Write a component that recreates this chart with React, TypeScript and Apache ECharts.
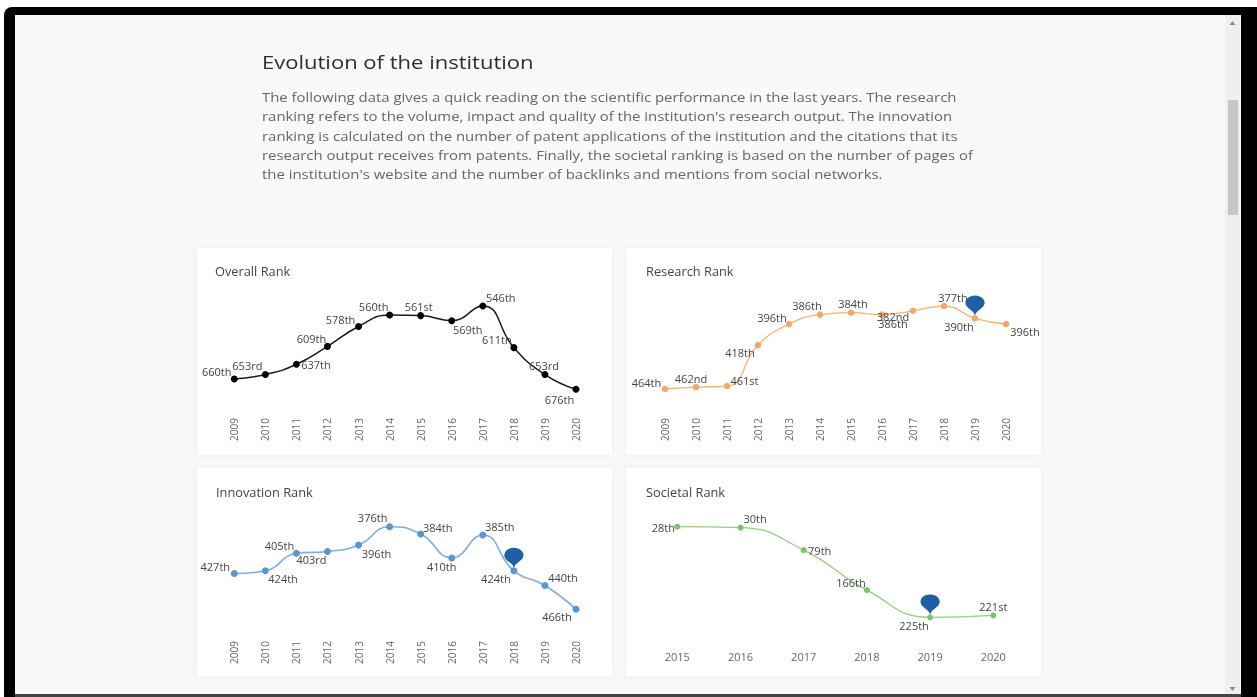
import React, { useEffect, useRef } from "react";
import * as echarts from "echarts";

// ---------- DATA ----------
const years = ["2009", "2010", "2011", "2012", "2013", "2014", "2015", "2016", "2017", "2018", "2019", "2020"];
const societalYears = ["2015", "2016", "2017", "2018", "2019", "2020"];

const overallRank = [660, 653, 637, 609, 578, 560, 561, 569, 546, 611, 653, 676];
const researchRank = [464, 462, 461, 418, 396, 386, 384, 386, 382, 377, 390, 396];
const innovationRank = [427, 424, 405, 403, 396, 376, 384, 410, 385, 424, 440, 466];
const societalRank = [28, 30, 79, 166, 225, 221];

const researchPinYear = "2019";
const innovationPinYear = "2018";
const societalPinYear = "2019";

const panelTitles = ["Overall Rank", "Research Rank", "Innovation Rank", "Societal Rank"];

const headline = "Evolution of the institution";
const paragraphLines = [
  "The following data gives a quick reading on the scientific performance in the last years. The research",
  "ranking refers to the volume, impact and quality of the institution's research output. The innovation",
  "ranking is calculated on the number of patent applications of the institution and the citations that its",
  "research output receives from patents. Finally, the societal ranking is based on the number of pages of",
  "the institution's website and the number of backlinks and mentions from social networks.",
];

// ---------- LABEL PLACEMENT (style, separate from data) ----------
const overallLabelOffsets = [[-17.6, -8], [-18, -9], [19.5, 0], [-16, -8.3], [-18, -7.3], [-16, -8.3], [-2, -9], [16, 8.3], [18, -8.3], [-17, -7.7], [-1, -9], [-16.5, 10]];
const researchLabelOffsets = [[-18.5, -7], [-5, -9], [17.5, -6], [-18, 7], [-17, -7], [-13, -9], [2, -9], [11, 9], [-20, 6], [9, -9], [-16, 8], [19, 7.4]];
const innovationLabelOffsets = [[-19, -6.7], [17.7, 7.3], [-17, -7.6], [-16, 8.3], [18, 8.3], [-17, -9], [17, -6.3], [-10, 8.4], [17, -8.3], [-18, 7.3], [18, -8], [-19, 7.4]];
const societalLabelOffsets = [[-14, 1], [14.5, -8.7], [16, 0], [-16, -7.7], [-16, 8.4], [0, -8.6]];

const FONT = "'Open Sans', 'Noto Sans', sans-serif";

function ordinal(n: number): string {
  const h = n % 100;
  if (h >= 11 && h <= 13) return n + "th";
  switch (n % 10) {
    case 1: return n + "st";
    case 2: return n + "nd";
    case 3: return n + "rd";
    default: return n + "th";
  }
}

function makeSeries(
  idx: number,
  cats: string[],
  values: number[],
  offsets: number[][],
  lineColor: string,
  dotColor: string,
  symbolSize: number,
  lineWidth: number,
  pinYear?: string
): any {
  const s: any = {
    type: "line",
    xAxisIndex: idx,
    yAxisIndex: idx,
    smooth: true,
    symbol: "circle",
    symbolSize,
    showSymbol: true,
    lineStyle: { color: lineColor, width: lineWidth },
    itemStyle: { color: dotColor },
    label: {
      show: true,
      position: "inside",
      align: "center",
      verticalAlign: "middle",
      fontFamily: FONT,
      fontSize: 11,
      color: "#444",
      formatter: (p: any) => ordinal(p.value),
    },
    emphasis: { disabled: true },
    data: values.map((v, i) => ({ value: v, label: { offset: offsets[i] } })),
  };
  if (pinYear) {
    const pi = cats.indexOf(pinYear);
    s.markPoint = {
      symbol: "pin",
      symbolSize: [32, 24],
      symbolOffset: [0, -2],
      silent: true,
      itemStyle: { color: "#1f5fa6" },
      label: { show: false },
      data: [{ coord: [pi, values[pi]] }],
    };
  }
  return s;
}

function xAxis(idx: number, cats: string[], rotated: boolean): any {
  return {
    type: "category",
    gridIndex: idx,
    data: cats,
    boundaryGap: false,
    axisLine: { show: false },
    axisTick: { show: false },
    splitLine: { show: false },
    axisLabel: {
      interval: 0,
      rotate: rotated ? 90 : 0,
      fontFamily: FONT,
      fontSize: rotated ? 10 : 11,
      color: "#666",
      margin: rotated ? 8 : 9,
    },
  };
}

function yAxis(idx: number, min: number, max: number): any {
  return { type: "value", gridIndex: idx, inverse: true, min, max, show: false, splitLine: { show: false } };
}

const panels = [
  { x: 197, y: 248, w: 415, h: 207, tx: 215, ty: 271 },
  { x: 626, y: 248, w: 415, h: 207, tx: 646, ty: 271 },
  { x: 197, y: 468, w: 415, h: 208, tx: 216, ty: 492 },
  { x: 626, y: 468, w: 415, h: 208, tx: 646, ty: 492 },
];

const graphicElements: any[] = [
  { type: "rect", shape: { x: 0, y: 0, width: 1257, height: 697 }, style: { fill: "#ffffff" } },
  { type: "rect", shape: { x: 4, y: 7, width: 1265, height: 705, r: 8 }, style: { fill: "#000000" } },
  { type: "rect", shape: { x: 15, y: 15, width: 1226, height: 679 }, style: { fill: "#f9f9f9" } },
  { type: "rect", shape: { x: 1225, y: 15, width: 15, height: 679 }, style: { fill: "#efefef" } },
  { type: "rect", shape: { x: 1228, y: 100, width: 10, height: 115 }, style: { fill: "#c6c6c6" } },
  { type: "polygon", shape: { points: [[1229.5, 25], [1235.5, 25], [1232.5, 21]] }, style: { fill: "#8a8a8a" } },
  { type: "polygon", shape: { points: [[1229.5, 687], [1235.5, 687], [1232.5, 691]] }, style: { fill: "#8a8a8a" } },
  { type: "rect", shape: { x: 15, y: 694, width: 1226, height: 3 }, style: { fill: "#444" } },
  {
    type: "text",
    x: 262,
    y: 62,
    scaleX: 1.19,
    style: { text: headline, fill: "#2e2e2e", font: `18.5px ${FONT}`, textVerticalAlign: "middle" },
  },
  ...paragraphLines.map((t, i) => ({
    type: "text",
    x: 262,
    y: 96.7 + i * 19.4,
    scaleX: 1.185,
    style: { text: t, fill: "#666", font: `12.6px ${FONT}`, textVerticalAlign: "middle" },
  })),
  ...panels.map((p) => ({
    type: "rect",
    shape: { x: p.x, y: p.y, width: p.w, height: p.h },
    style: { fill: "#ffffff", shadowBlur: 6, shadowColor: "rgba(0,0,0,0.06)" },
  })),
  ...panels.map((p, i) => ({
    type: "text",
    x: p.tx,
    y: p.ty,
    style: { text: panelTitles[i], fill: "#444", font: `12.8px ${FONT}`, textVerticalAlign: "middle" },
  })),
];

const option: any = {
  animation: false,
  backgroundColor: "transparent",
  graphic: { elements: graphicElements },
  grid: [
    { left: 234.3, top: 290, width: 341.7, height: 120 },
    { left: 665, top: 290, width: 341, height: 120 },
    { left: 234.3, top: 510, width: 341.7, height: 123 },
    { left: 677.3, top: 510, width: 316, height: 132 },
  ],
  xAxis: [
    xAxis(0, years, true),
    xAxis(1, years, true),
    xAxis(2, years, true),
    xAxis(3, societalYears, false),
  ],
  yAxis: [
    yAxis(0, 521, 708.4),
    yAxis(1, 360.2, 486),
    yAxis(2, 357.8, 491.8),
    yAxis(3, -8.3, 278.7),
  ],
  series: [
    makeSeries(0, years, overallRank, overallLabelOffsets, "#1a1a1a", "#000000", 7, 1.5),
    makeSeries(1, years, researchRank, researchLabelOffsets, "#f6b074", "#f2a866", 6.5, 1.3, researchPinYear),
    makeSeries(2, years, innovationRank, innovationLabelOffsets, "#7eaedf", "#5b95d0", 7, 1.6, innovationPinYear),
    makeSeries(3, societalYears, societalRank, societalLabelOffsets, "#93cd80", "#7cc466", 6, 1.3, societalPinYear),
  ],
};

export default function App() {
  const ref = useRef<HTMLDivElement>(null);
  useEffect(() => {
    if (!ref.current) return;
    const chart = echarts.init(ref.current, null, { renderer: "svg" });
    chart.setOption(option);
    return () => chart.dispose();
  }, []);
  return (
    <div
      ref={ref}
      style={{ position: "fixed", left: 0, top: 0, width: 1257, height: 697 }}
    />
  );
}
